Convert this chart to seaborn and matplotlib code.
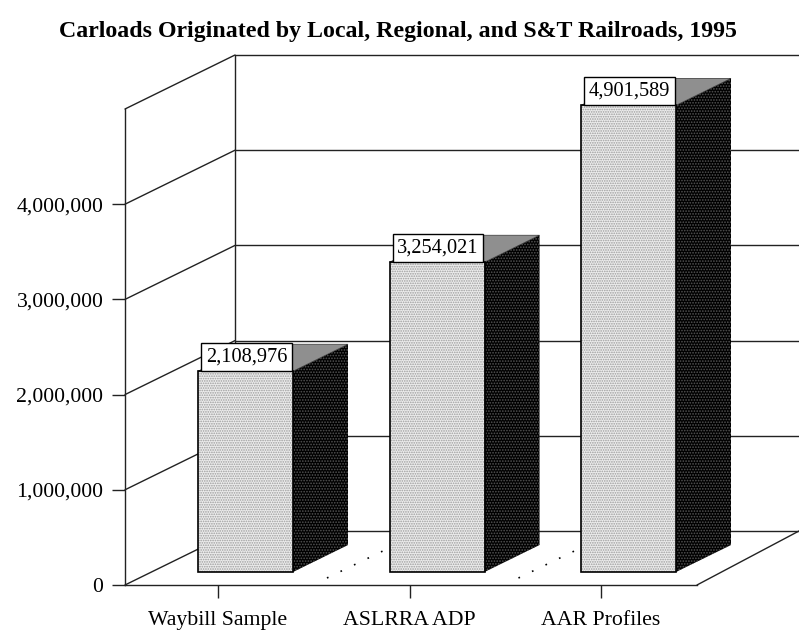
import matplotlib
matplotlib.use('Agg')
import matplotlib.pyplot as plt
import seaborn as sns
import pandas as pd
from matplotlib.patches import Polygon, Rectangle
from matplotlib.transforms import offset_copy

title = 'Carloads Originated by Local, Regional, and S&T Railroads, 1995'
categories = ['Waybill Sample', 'ASLRRA ADP', 'AAR Profiles']
carloads = [2108976, 3254021, 4901589]
y_ticks = [0, 1000000, 2000000, 3000000, 4000000]

sns.set_style('white')
plt.rcParams['font.family'] = ['Liberation Serif', 'DejaVu Serif']
plt.rcParams['hatch.linewidth'] = 0.8

W, H = 799, 630
fig = plt.figure(figsize=(W / 100, H / 100), dpi=100)
# axes = front plane of the box, pixels 125..697 and 585..109
ax = fig.add_axes([125 / W, (H - 585) / H, 572 / W, 476 / H])
ppx = 191.5          # pixels per category
ppy = 95.2 / 1e6     # pixels per carload
x0 = -93 / ppx
ax.set_xlim(x0, x0 + 572 / ppx)
ax.set_ylim(0, 5000000)

df = pd.DataFrame({'source': categories, 'carloads': carloads})
sns.barplot(data=df, x='source', y='carloads', ax=ax, width=95 / ppx,
            color='#ececec', saturation=1, zorder=5)
ax.set_xlim(x0, x0 + 572 / ppx)
ax.set_ylim(0, 5000000)
ax.set_xlabel('')
ax.set_ylabel('')
ax.patch.set_alpha(0)

# box walls
wall_dx, wall_dy = 110 / ppx, 54 / ppy
line = dict(color='#222222', lw=1.0, clip_on=False, zorder=1)
for v in [0, 1000000, 2000000, 3000000, 4000000, 5000000]:
    ax.plot([x0, x0 + wall_dx], [v, v + wall_dy], **line)
    ax.plot([x0 + wall_dx, x0 + 720 / ppx], [v + wall_dy, v + wall_dy], **line)
ax.plot([x0 + wall_dx, x0 + wall_dx], [wall_dy, 5000000 + wall_dy], **line)
ax.plot([x0 + 572 / ppx, x0 + 674 / ppx], [0, wall_dy], **line)

# dotted floor lines between the bars
for i in [0, 1]:
    ax.plot([i + 0.569, i + 0.861], [7 / ppy, 34 / ppy], color='black',
            lw=1.2, ls=(0, (1, 8)), clip_on=False, zorder=1)

# bars sit back from the front plane, sides and top are drawn off the bar values
bar_tr = offset_copy(ax.transData, fig=fig, x=27.5, y=13, units='dots')
depth_x, depth_y = 55 / ppx, 27 / ppy
for p, v in zip(ax.patches, carloads):
    x, w = p.get_x(), p.get_width()
    p.set_transform(bar_tr)
    p.set_clip_on(False)
    p.set_hatch('.......')
    p.set_edgecolor('#9c9c9c')
    p.set_linewidth(0)
    side = Polygon([(x + w, 0), (x + w + depth_x, depth_y), (x + w + depth_x, v + depth_y), (x + w, v)],
                   closed=True, facecolor='black', edgecolor='#555555', hatch='......', lw=0,
                   transform=bar_tr, clip_on=False, zorder=5)
    ax.add_patch(side)
    top = Polygon([(x, v), (x + w, v), (x + w + depth_x, v + depth_y), (x + depth_x, v + depth_y)],
                  closed=True, facecolor='#8f8f8f', edgecolor='#333333', lw=0.5,
                  transform=bar_tr, clip_on=False, zorder=5)
    ax.add_patch(top)
    ax.add_patch(Rectangle((x, 0), w, v, fill=False, edgecolor='black', lw=1.2,
                           transform=bar_tr, clip_on=False, zorder=6))
    ax.text(x + w / 2 + 1 / ppx, v + 14 / ppy, f'{v:,}', transform=bar_tr, ha='center', va='center',
            fontsize=14.7, color='black', zorder=7,
            bbox=dict(boxstyle='square,pad=0.22', facecolor='white', edgecolor='black', lw=1.0))

ax.set_yticks(y_ticks)
ax.set_yticklabels([f'{v:,}' for v in y_ticks])
ax.set_xticks(range(len(categories)))
ax.set_xticklabels(categories)
ax.tick_params(axis='both', length=9.5, width=1.0, color='#222222', labelsize=15.7,
               left=True, bottom=True, pad=6, labelcolor='black')
ax.tick_params(axis='x', pad=9)
sns.despine(ax=ax, top=True, right=True)
for s in ['left', 'bottom']:
    ax.spines[s].set_linewidth(1.0)
    ax.spines[s].set_color('#222222')

fig.text(398 / W, 1 - 32 / H, title, ha='center', va='center', fontsize=17.2,
         fontweight='bold', color='black')

fig.savefig('out.png', dpi=100, facecolor='white')
